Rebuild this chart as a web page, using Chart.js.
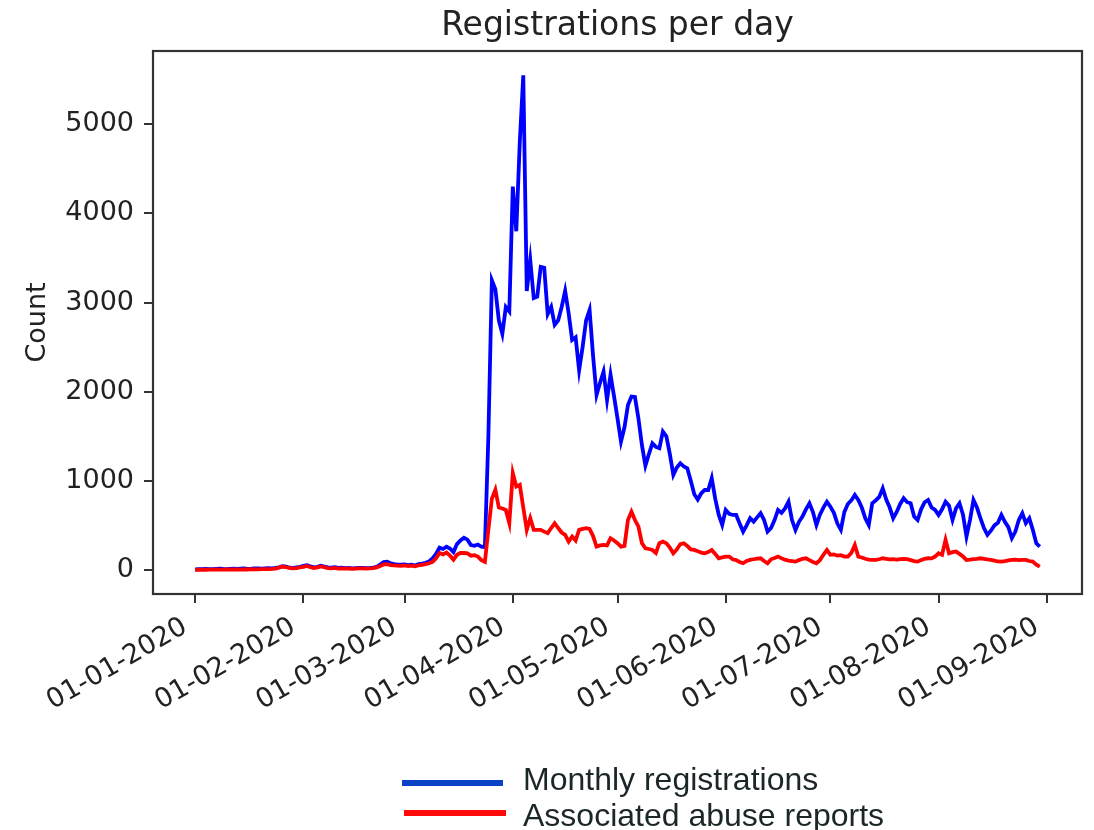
<!DOCTYPE html>
<html><head><meta charset="utf-8">
<script src="https://cdn.jsdelivr.net/npm/chart.js@4.4.1/dist/chart.umd.min.js"></script>
<style>
html,body{margin:0;padding:0;background:#fff;}
#wrap{position:relative;width:1094px;height:830px;overflow:hidden;}
canvas{position:absolute;left:0;top:0;}
.leg{position:absolute;font-family:"Liberation Sans",Arial,sans-serif;font-size:32px;line-height:32px;color:#1b2628;white-space:nowrap;}
.sw{position:absolute;height:6px;}
</style></head><body>
<div id="wrap"><canvas id="c" width="1094" height="830"></canvas></div>
<script>
// Daily values from 01-01-2020 (day 0) to 30-08-2020 (day 242)
const registrations = [
  5,8,10,12,10,9,12,14,11,10,13,
  15,12,14,16,13,15,18,16,14,17,
  20,18,22,30,42,38,25,22,28,35,
  45,52,40,30,35,48,38,28,25,30,
  22,25,20,22,18,20,22,24,20,22,
  25,35,60,88,92,75,65,60,58,62,
  55,60,50,65,70,80,95,
  130,180,250,235,260,240,200,290,330,360,340,280,270,285,260,255,
  1500,3250,3150,2800,2650,2950,2900,4300,3800,4800,5550,
  3130,3478,3050,3065,3400,3390,2870,2950,2750,2800,2950,3130,2880,2580,2610,2240,
  2500,2800,2917,2400,1963,2100,2225,1907,2190,1950,1700,1440,
  1600,1850,1945,1940,1700,1400,1170,1300,1420,1380,1365,1552,1500,1300,1066,1150,1197,1160,1141,1000,850,790,860,897,897,1029,800,
  620,505,673,630,617,617,520,430,500,580,542,590,636,560,
  430,470,560,673,640,690,766,560,449,540,
  600,680,748,650,505,620,700,766,710,640,
  520,450,650,740,780,841,785,700,580,505,
  748,780,820,916,790,700,580,650,740,804,
  760,748,600,560,680,760,785,700,673,617,
  680,766,720,561,690,748,620,374,560,785,
  700,580,470,393,440,500,530,617,540,480,
  356,430,560,636,524,580,450,299,262
];
const abuseReports = [
  0,2,3,2,4,3,5,4,3,5,4,
  5,6,4,7,5,8,6,7,9,8,
  10,12,15,25,38,30,22,18,20,28,
  35,45,30,22,28,40,30,20,18,22,
  15,18,14,16,12,15,17,18,15,17,
  20,28,45,62,65,55,50,48,45,50,
  42,48,40,52,58,65,75,
  90,130,190,175,195,160,115,170,190,190,185,160,165,150,110,90,
  450,800,900,700,690,673,524,1085,935,954,700,
  449,580,449,449,449,430,412,470,524,470,420,393,318,374,330,449,
  460,468,460,380,262,275,280,275,356,330,300,262,
  270,560,654,560,486,300,243,235,224,190,300,318,300,250,187,230,290,299,270,230,224,210,195,187,200,224,180,
  131,140,150,150,120,110,90,75,100,112,120,128,131,100,
  75,120,135,150,130,115,105,100,93,110,
  125,131,110,90,75,110,170,224,170,175,
  160,165,150,150,190,280,150,140,125,115,
  112,112,120,131,125,118,120,115,120,125,
  120,110,100,93,110,125,131,130,150,187,
  170,337,187,200,206,180,150,112,115,120,
  125,131,125,118,112,105,95,93,100,108,
  112,115,110,112,112,100,93,60,37
];
// Tick positions (day offsets from 01-01-2020) and their labels
const tickDays = [0,31,60,91,121,152,182,213,244];
const tickLabels = ["01-01-2020","01-02-2020","01-03-2020","01-04-2020","01-05-2020","01-06-2020","01-07-2020","01-08-2020","01-09-2020"];
const yTicks = [0,1000,2000,3000,4000,5000];
const seriesNames = ["Monthly registrations","Associated abuse reports"];

const lineColors = ["#0000ff","#ff0000"];
const legendColors = ["#0a43c6","#ff0a0a"];

const tickFont = {family:"DejaVu Sans", size:27};
const ink = "#222";

const framePlugin = {
  id:'frame',
  afterDatasetsDraw(chart){
    const {ctx, chartArea:a} = chart;
    ctx.save();
    ctx.strokeStyle = '#333';
    ctx.lineWidth = 2.2;
    ctx.strokeRect(a.left, a.top, a.right-a.left, a.bottom-a.top);
    ctx.restore();
  }
};

const chart = new Chart(document.getElementById('c'), {
  type:'line',
  data:{
    datasets:[
      {label:seriesNames[0], data:registrations.map((v,i)=>({x:i,y:v})), borderColor:lineColors[0], backgroundColor:lineColors[0], borderWidth:3.8, pointRadius:0, tension:0, order:2},
      {label:seriesNames[1], data:abuseReports.map((v,i)=>({x:i,y:v})), borderColor:lineColors[1], backgroundColor:lineColors[1], borderWidth:3.8, pointRadius:0, tension:0, order:1}
    ]
  },
  options:{
    responsive:false,
    animation:false,
    devicePixelRatio:1,
    layout:{padding:{top:0,right:12,bottom:86,left:0}},
    plugins:{
      legend:{display:false},
      tooltip:{enabled:false},
      title:{display:true, fullSize:false, text:"Registrations per day", color:ink,
        font:{family:"DejaVu Sans", size:33, weight:'normal', lineHeight:1.2},
        padding:{top:7,bottom:4.4}}
    },
    scales:{
      x:{
        type:'linear', min:-12.1, max:254.1,
        afterBuildTicks(s){ s.ticks = tickDays.map(v=>({value:v})); },
        afterFit(s){ s.height = 150; },
        grid:{drawOnChartArea:false, drawTicks:true, tickLength:9, color:'#333', lineWidth:2},
        border:{display:false},
        ticks:{autoSkip:false, minRotation:30, maxRotation:30, padding:8, labelOffset:-10, color:ink, font:tickFont,
          callback:(v)=>{const k=tickDays.indexOf(v); return k>=0?tickLabels[k]:'';}}
      },
      y:{
        type:'linear', min:-270, max:5822,
        afterBuildTicks(s){ s.ticks = yTicks.map(v=>({value:v})); },
        afterFit(s){ s.width = 153; },
        grid:{drawOnChartArea:false, drawTicks:true, tickLength:9, color:'#333', lineWidth:2},
        border:{display:false},
        ticks:{padding:10, color:ink, font:tickFont, callback:(v)=>String(v)},
        title:{display:true, text:"Count", color:ink, font:{family:"DejaVu Sans", size:27, lineHeight:1.2}, padding:{top:21.5,bottom:0}}
      }
    }
  },
  plugins:[framePlugin]
});

// Legend built from the chart's datasets
const wrap = document.getElementById('wrap');
const legPos = [{sx:402, sy:779.5, sw:101, tx:523, ty:763}, {sx:404, sy:809.5, sw:102, tx:523, ty:799}];
chart.data.datasets.forEach((ds,i)=>{
  const p = legPos[i];
  const sw = document.createElement('div');
  sw.className='sw';
  sw.style.left=p.sx+'px'; sw.style.top=p.sy+'px'; sw.style.width=p.sw+'px';
  sw.style.background=legendColors[i];
  wrap.appendChild(sw);
  const t = document.createElement('div');
  t.className='leg';
  t.style.left=p.tx+'px'; t.style.top=p.ty+'px';
  t.textContent=ds.label;
  wrap.appendChild(t);
});
</script>
</body></html>
